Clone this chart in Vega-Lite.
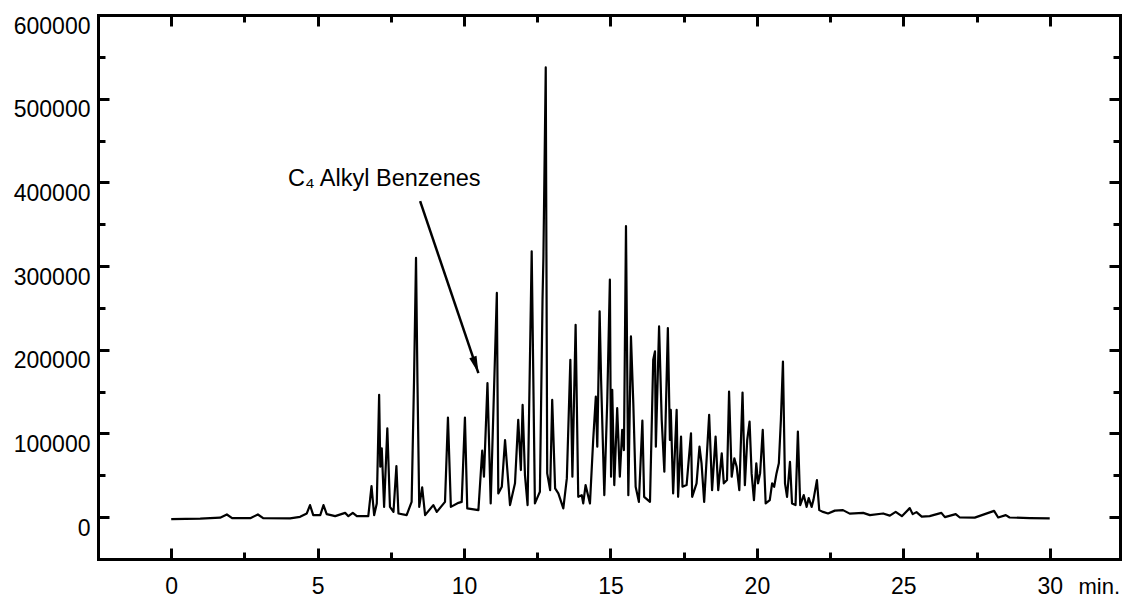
{
  "$schema": "https://vega.github.io/schema/vega-lite/v6.json",
  "width": 1022,
  "height": 544,
  "autosize": {"type": "none"},
  "padding": {"left": 98, "top": 15, "right": 4, "bottom": 39},
  "background": "white",
  "config": {
    "view": {"stroke": null},
    "axis": {
      "grid": false,
      "domainColor": "black",
      "domainWidth": 3,
      "domainCap": "square",
      "tickColor": "black",
      "tickWidth": 3,
      "labelFont": "Liberation Sans",
      "labelFontSize": 23,
      "labelColor": "black",
      "titleFont": "Liberation Sans",
      "titleFontSize": 22,
      "titleFontWeight": "normal",
      "titleColor": "black"
    }
  },
  "datasets": {
    "chrom": [
      {"t":0.00,"v":-2400},{"t":0.99,"v":-1800},{"t":1.67,"v":-600},{"t":1.90,"v":3200},{"t":2.08,"v":-1200},
      {"t":2.70,"v":-1200},{"t":2.96,"v":3200},{"t":3.14,"v":-1200},{"t":4.06,"v":-1500},{"t":4.40,"v":400},
      {"t":4.63,"v":4400},{"t":4.74,"v":14400},{"t":4.85,"v":2400},{"t":5.09,"v":2400},{"t":5.20,"v":14400},
      {"t":5.31,"v":3600},{"t":5.60,"v":1200},{"t":5.94,"v":5100},{"t":6.05,"v":1200},{"t":6.20,"v":5100},
      {"t":6.34,"v":1200},{"t":6.73,"v":1200},{"t":6.84,"v":37100},{"t":6.93,"v":2400},{"t":7.02,"v":16400},
      {"t":7.10,"v":146100},{"t":7.14,"v":60200},{"t":7.19,"v":82300},{"t":7.27,"v":12300},{"t":7.38,"v":106200},
      {"t":7.47,"v":12300},{"t":7.59,"v":6300},{"t":7.69,"v":61100},{"t":7.76,"v":4400},{"t":8.04,"v":2400},
      {"t":8.21,"v":18300},{"t":8.29,"v":160100},{"t":8.36,"v":309800},{"t":8.41,"v":160100},{"t":8.47,"v":12300},
      {"t":8.57,"v":35600},{"t":8.67,"v":2400},{"t":8.95,"v":14400},{"t":9.07,"v":6300},{"t":9.35,"v":18300},
      {"t":9.45,"v":118900},{"t":9.55,"v":12300},{"t":9.81,"v":17100},{"t":9.92,"v":18300},{"t":10.03,"v":118900},
      {"t":10.11,"v":10400},{"t":10.49,"v":8400},{"t":10.62,"v":79400},{"t":10.68,"v":48300},{"t":10.80,"v":160100},
      {"t":10.91,"v":16400},{"t":11.12,"v":267900},{"t":11.17,"v":28400},{"t":11.29,"v":36300},{"t":11.40,"v":92200},
      {"t":11.57,"v":14400},{"t":11.74,"v":40400},{"t":11.85,"v":116200},{"t":11.94,"v":56300},{"t":12.00,"v":134100},
      {"t":12.08,"v":50300},{"t":12.17,"v":14400},{"t":12.31,"v":317700},{"t":12.42,"v":16400},{"t":12.54,"v":26300},
      {"t":12.59,"v":30300},{"t":12.68,"v":259900},{"t":12.71,"v":310200},{"t":12.79,"v":537400},{"t":12.84,"v":52300},
      {"t":12.94,"v":32300},{"t":13.01,"v":140100},{"t":13.11,"v":34400},{"t":13.22,"v":28400},{"t":13.39,"v":10400},
      {"t":13.51,"v":46300},{"t":13.63,"v":188000},{"t":13.70,"v":48300},{"t":13.81,"v":229900},{"t":13.90,"v":24300},
      {"t":14.02,"v":26300},{"t":14.07,"v":16400},{"t":14.15,"v":38300},{"t":14.30,"v":16400},{"t":14.41,"v":92200},
      {"t":14.50,"v":144100},{"t":14.55,"v":84200},{"t":14.63,"v":245900},{"t":14.68,"v":164100},{"t":14.79,"v":26300},
      {"t":14.89,"v":138100},{"t":14.98,"v":283800},{"t":15.02,"v":48300},{"t":15.06,"v":152100},{"t":15.13,"v":38300},
      {"t":15.23,"v":130200},{"t":15.32,"v":48300},{"t":15.40,"v":104200},{"t":15.46,"v":80200},{"t":15.53,"v":347700},
      {"t":15.61,"v":26300},{"t":15.70,"v":215900},{"t":15.78,"v":136200},{"t":15.86,"v":36300},{"t":15.97,"v":18300},
      {"t":16.09,"v":115300},{"t":16.15,"v":24300},{"t":16.35,"v":18300},{"t":16.46,"v":188000},{"t":16.52,"v":198000},
      {"t":16.55,"v":84200},{"t":16.66,"v":227900},{"t":16.75,"v":116200},{"t":16.84,"v":54300},{"t":16.96,"v":226000},
      {"t":17.03,"v":92200},{"t":17.06,"v":128100},{"t":17.14,"v":28400},{"t":17.26,"v":128100},{"t":17.31,"v":24300},
      {"t":17.41,"v":96200},{"t":17.46,"v":36300},{"t":17.60,"v":38300},{"t":17.75,"v":100200},{"t":17.79,"v":24300},
      {"t":17.94,"v":40400},{"t":18.04,"v":84200},{"t":18.11,"v":64300},{"t":18.20,"v":18300},{"t":18.37,"v":122200},
      {"t":18.47,"v":32300},{"t":18.59,"v":96200},{"t":18.68,"v":32300},{"t":18.80,"v":76300},{"t":18.87,"v":40400},
      {"t":18.98,"v":44300},{"t":19.05,"v":150100},{"t":19.14,"v":48300},{"t":19.23,"v":70300},{"t":19.31,"v":60200},
      {"t":19.40,"v":32300},{"t":19.51,"v":148900},{"t":19.59,"v":38300},{"t":19.67,"v":92200},{"t":19.75,"v":114100},
      {"t":19.82,"v":52300},{"t":19.90,"v":20400},{"t":19.98,"v":64300},{"t":20.04,"v":40400},{"t":20.11,"v":52300},
      {"t":20.20,"v":104200},{"t":20.30,"v":16400},{"t":20.44,"v":20400},{"t":20.52,"v":40400},{"t":20.59,"v":36300},
      {"t":20.67,"v":52300},{"t":20.75,"v":64300},{"t":20.82,"v":116200},{"t":20.89,"v":186000},{"t":20.96,"v":40400},
      {"t":21.03,"v":24300},{"t":21.13,"v":66200},{"t":21.20,"v":16400},{"t":21.32,"v":14400},{"t":21.40,"v":102200},
      {"t":21.48,"v":14400},{"t":21.60,"v":26300},{"t":21.70,"v":12300},{"t":21.77,"v":22800},{"t":21.87,"v":12300},
      {"t":21.93,"v":20400},{"t":22.05,"v":44300},{"t":22.13,"v":8400},{"t":22.26,"v":6300},{"t":22.43,"v":4400},
      {"t":22.66,"v":7800},{"t":22.94,"v":8400},{"t":23.17,"v":4200},{"t":23.63,"v":5100},{"t":23.86,"v":2400},
      {"t":24.31,"v":4400},{"t":24.54,"v":1800},{"t":24.74,"v":6300},{"t":24.95,"v":1200},{"t":25.22,"v":10800},
      {"t":25.32,"v":3600},{"t":25.45,"v":6000},{"t":25.63,"v":600},{"t":25.90,"v":1200},{"t":26.30,"v":5100},
      {"t":26.42,"v":0},{"t":26.79,"v":3600},{"t":26.93,"v":-400},{"t":27.44,"v":-600},{"t":28.10,"v":7500},
      {"t":28.24,"v":-400},{"t":28.50,"v":2400},{"t":28.63,"v":-400},{"t":29.32,"v":-1200},{"t":30.00,"v":-1500}
    ],
    "ann": [
      {"x1": 8.50, "y1": 377600, "x2": 10.49, "y2": 172100, "tx": 3.99, "ty": 395600, "label": "C₄ Alkyl Benzenes"}
    ]
  },
  "layer": [
    {
      "data": {"name": "chrom"},
      "mark": {"type": "line", "color": "black", "strokeWidth": 2.2, "strokeJoin": "round", "clip": true},
      "encoding": {
        "x": {
          "field": "t", "type": "quantitative",
          "scale": {"domain": [-2.5, 32.4], "nice": false, "zero": false},
          "axis": {
            "orient": "bottom",
            "values": [0, 2.5, 5, 7.5, 10, 12.5, 15, 17.5, 20, 22.5, 25, 27.5, 30],
            "labelExpr": "datum.value % 5 === 0 ? '' + datum.value : ''",
            "tickSize": {"condition": {"test": "datum.value % 5 === 0", "value": -11}, "value": -7},
            "labelPadding": 45,
            "labelBaseline": "alphabetic",
            "labelAlign": "center",
            "labelFlush": false,
            "labelOverlap": false,
            "title": "min.",
            "titleX": 980,
            "titleY": 34,
            "titleAlign": "left",
            "titleBaseline": "alphabetic"
          }
        },
        "y": {
          "field": "v", "type": "quantitative",
          "scale": {"domain": [-50000, 600000], "nice": false, "zero": false},
          "axis": {
            "orient": "left",
            "values": [0, 50000, 100000, 150000, 200000, 250000, 300000, 350000, 400000, 450000, 500000, 550000, 600000],
            "labelExpr": "datum.value % 100000 === 0 ? '' + datum.value : ''",
            "tickSize": {"condition": {"test": "datum.value % 100000 === 0", "value": -11}, "value": -7},
            "labelPadding": 19,
            "labelBaseline": "top",
            "labelAlign": "right",
            "labelFlush": false,
            "labelOverlap": false,
            "title": null
          }
        }
      }
    },
    {
      "data": {"name": "ann"},
      "mark": {"type": "rule", "color": "black", "strokeWidth": 2.5},
      "encoding": {
        "x": {
          "field": "x1", "type": "quantitative",
          "axis": {
            "orient": "top",
            "values": [0, 2.5, 5, 7.5, 10, 12.5, 15, 17.5, 20, 22.5, 25, 27.5, 30],
            "labels": false,
            "tickSize": {"condition": {"test": "datum.value % 5 === 0", "value": -11}, "value": -7},
            "title": null
          }
        },
        "y": {
          "field": "y1", "type": "quantitative",
          "axis": {
            "orient": "right",
            "values": [0, 50000, 100000, 150000, 200000, 250000, 300000, 350000, 400000, 450000, 500000, 550000, 600000],
            "labels": false,
            "tickSize": {"condition": {"test": "datum.value % 100000 === 0", "value": -11}, "value": -7},
            "title": null
          }
        },
        "x2": {"field": "x2"},
        "y2": {"field": "y2"}
      }
    },
    {
      "data": {"name": "ann"},
      "mark": {"type": "point", "filled": true, "color": "black", "opacity": 1, "shape": "M0,0L-0.45,-2L0.45,-2Z", "size": 289, "angle": -18.8, "strokeWidth": 0},
      "encoding": {
        "x": {"field": "x2", "type": "quantitative", "axis": null},
        "y": {"field": "y2", "type": "quantitative", "axis": null}
      }
    },
    {
      "data": {"name": "ann"},
      "mark": {"type": "text", "align": "left", "baseline": "alphabetic", "font": "Liberation Sans", "fontSize": 23.5, "color": "black"},
      "encoding": {
        "x": {"field": "tx", "type": "quantitative", "axis": null},
        "y": {"field": "ty", "type": "quantitative", "axis": null},
        "text": {"field": "label"}
      }
    }
  ],
  "resolve": {"axis": {"x": "independent", "y": "independent"}}
}
